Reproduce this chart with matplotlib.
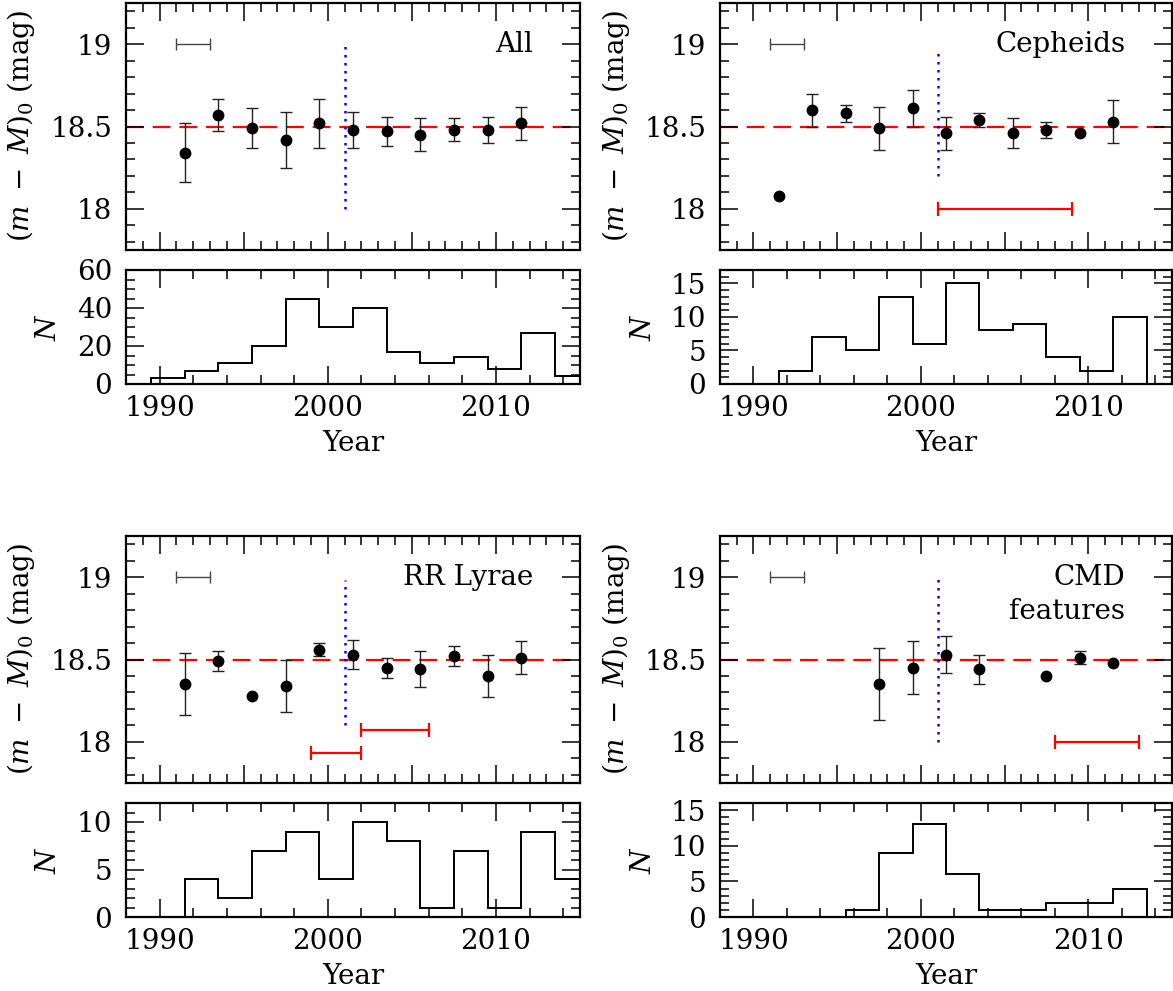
import numpy as np
import matplotlib.pyplot as plt
from matplotlib.ticker import MultipleLocator, FixedLocator, FormatStrFormatter, NullFormatter

plt.rcParams['font.family'] = 'DejaVu Serif'
plt.rcParams['mathtext.fontset'] = 'dejavuserif'
plt.rcParams['font.size'] = 20

# x positions of the points and histogram bin edges
years = [1991.5, 1993.5, 1995.5, 1997.5, 1999.5, 2001.5, 2003.5, 2005.5, 2007.5, 2009.5, 2011.5]
edges = [1989.5, 1991.5, 1993.5, 1995.5, 1997.5, 1999.5, 2001.5, 2003.5,
         2005.5, 2007.5, 2009.5, 2011.5, 2013.5, 2015.5]

nan = np.nan

all_dm = [18.34, 18.57, 18.49, 18.42, 18.52, 18.48, 18.47, 18.45, 18.48, 18.48, 18.52]
all_err = [0.18, 0.10, 0.12, 0.17, 0.15, 0.11, 0.09, 0.10, 0.07, 0.08, 0.10]
all_n = [3, 7, 11, 20, 45, 30, 40, 17, 11, 14, 8, 27, 4]

cep_dm = [18.08, 18.60, 18.58, 18.49, 18.61, 18.46, 18.54, 18.46, 18.48, 18.46, 18.53]
cep_err = [0, 0.10, 0.05, 0.13, 0.11, 0.10, 0.04, 0.09, 0.05, 0, 0.13]
cep_n = [0, 2, 7, 5, 13, 6, 15, 8, 9, 4, 2, 10, 0]

rr_dm = [18.35, 18.49, 18.28, 18.34, 18.56, 18.53, 18.45, 18.44, 18.52, 18.40, 18.51]
rr_err = [0.19, 0.06, 0, 0.16, 0.04, 0.09, 0.06, 0.11, 0.06, 0.13, 0.10]
rr_n = [0, 4, 2, 7, 9, 4, 10, 8, 1, 7, 1, 9, 4]

cmd_dm = [nan, nan, nan, 18.35, 18.45, 18.53, 18.44, nan, 18.40, 18.51, 18.48]
cmd_err = [0, 0, 0, 0.22, 0.16, 0.11, 0.09, 0, 0, 0.04, 0]
cmd_n = [0, 0, 0, 1, 9, 13, 6, 1, 1, 2, 2, 4, 0]

# blue dotted line (x, ymin, ymax) and red range bars (x0, x1, y)
all_vline = (2001, 18.0, 19.0)
cep_vline = (2001, 18.2, 18.96)
rr_vline = (2001, 18.1, 18.98)
cmd_vline = (2001, 18.0, 18.99)

cep_bars = [(2001, 2009, 18.0)]
rr_bars = [(2002, 2006, 18.07), (1999, 2002, 17.93)]
cmd_bars = [(2008, 2013, 18.0)]

W, H = 1173, 991
fig = plt.figure(figsize=(W / 100, H / 100), dpi=100)


def box(x0, y0, x1, y1):
    return [x0 / W, 1 - y1 / H, (x1 - x0) / W, (y1 - y0) / H]


def style(ax):
    ax.tick_params(which='both', direction='in', top=True, right=True, width=1.1,
                   labelsize=20)
    ax.tick_params(which='major', length=13, pad=10)
    ax.tick_params(which='minor', length=6.5)
    for s in ax.spines.values():
        s.set_linewidth(1.6)


def panel(x0, x1, y0, label, dm, err, n, nmax, nmaj, nmin, vline, bars):
    ax = fig.add_axes(box(x0, y0, x1, y0 + 247))
    hx = fig.add_axes(box(x0, y0 + 267, x1, y0 + 381))
    for a in (ax, hx):
        style(a)
        a.set_xlim(1988, 2015)

    ax.set_ylim(17.75, 19.25)
    ax.yaxis.set_major_locator(FixedLocator([18, 18.5, 19]))
    ax.yaxis.set_major_formatter(FormatStrFormatter('%g'))
    ax.yaxis.set_minor_locator(MultipleLocator(0.1))
    ax.xaxis.set_major_locator(MultipleLocator(5))
    ax.xaxis.set_minor_locator(MultipleLocator(1))
    ax.xaxis.set_major_formatter(NullFormatter())
    ax.set_ylabel(r'$(m\ -\ M)_0$ (mag)', fontsize=20)
    ax.yaxis.set_label_coords(-0.195, 0.5)

    ax.axhline(18.5, color='#ff0000', lw=1.6, dashes=(8, 4), zorder=1)
    ax.plot([vline[0], vline[0]], [vline[1], vline[2]], color='#0000ff', lw=1.8,
            linestyle=(0, (1, 2.2)), zorder=1)
    ax.errorbar([1992], [19.0], xerr=[1], fmt='none', ecolor='#444444',
                elinewidth=1, capsize=4, capthick=1)
    for b in bars:
        ax.errorbar([(b[0] + b[1]) / 2], [b[2]], xerr=[(b[1] - b[0]) / 2], fmt='none',
                    ecolor='#ff0000', elinewidth=1.6, capsize=5, capthick=1.6)

    x = np.array(years)
    y = np.array(dm)
    e = np.array(err)
    m = e > 0
    ax.errorbar(x[m], y[m], yerr=e[m], fmt='none', ecolor='#222222',
                elinewidth=1, capsize=4, capthick=1, zorder=2)
    ax.plot(x, y, 'o', color='k', ms=7.5, zorder=3)

    lines = label.split('\n')
    for i, t in enumerate(lines):
        ax.text(2012.2, 19.0 - 0.21 * i, t, ha='right', va='center', fontsize=20)

    hx.stairs(n, edges, color='k', lw=1.4)
    hx.set_ylim(0, nmax)
    hx.yaxis.set_major_locator(MultipleLocator(nmaj))
    hx.yaxis.set_minor_locator(MultipleLocator(nmin))
    hx.xaxis.set_major_locator(MultipleLocator(10))
    hx.xaxis.set_minor_locator(MultipleLocator(2))
    hx.tick_params(axis='x', which='major', pad=8)
    hx.set_ylabel(r'$N$', fontsize=20)
    hx.yaxis.set_label_coords(-0.14, 0.5)
    hx.set_xlabel('Year', va='top', fontsize=20)
    hx.xaxis.set_label_coords(0.5, -0.40)


panel(126, 580, 3, 'All', all_dm, all_err, all_n, 60, 20, 5, all_vline, [])
panel(720, 1172, 3, 'Cepheids', cep_dm, cep_err, cep_n, 17, 5, 1, cep_vline, cep_bars)
panel(126, 580, 536, 'RR Lyrae', rr_dm, rr_err, rr_n, 12, 5, 1, rr_vline, rr_bars)
panel(720, 1172, 536, 'CMD\nfeatures', cmd_dm, cmd_err, cmd_n, 16, 5, 1, cmd_vline, cmd_bars)

fig.savefig('out.png', dpi=100)
